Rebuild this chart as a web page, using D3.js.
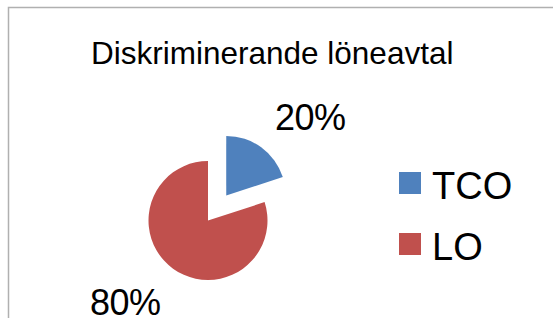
<!DOCTYPE html>
<html>
<head>
<meta charset="utf-8">
<script src="https://cdn.jsdelivr.net/npm/d3@7"></script>
<style>
  html, body { margin: 0; padding: 0; background: #fff; }
  svg { display: block; }
  text { font-family: "Liberation Sans", Arial, Helvetica, sans-serif; fill: #000; }
</style>
</head>
<body>
<svg id="chart" width="553" height="318"></svg>
<script>
const title = "Diskriminerande löneavtal";
const categories = ["TCO", "LO"];
const values = [20, 80];
const colors = ["#4F81BD", "#C0504D"];
const exploded = [true, false];

const W = 553, H = 318;
const svg = d3.select("#chart");

// chart border (left + top visible)
svg.append("path")
  .attr("d", `M8.5,${H} V7.5 H${W}`)
  .attr("fill", "none")
  .attr("stroke", "#b0b0b0")
  .attr("stroke-width", 1.5);

// title
svg.append("text")
  .attr("x", 91).attr("y", 64)
  .attr("font-size", 31.5)
  .text(title);

const cx = 208, cy = 220.5, r = 59.5, explodeDist = 31;
const total = d3.sum(values);
const pie = d3.pie().sort(null).value(d => d)(values);
const arc = d3.arc().innerRadius(0).outerRadius(r);

const g = svg.append("g").attr("transform", `translate(${cx},${cy})`);
g.selectAll("path.slice")
  .data(pie)
  .join("path")
  .attr("class", "slice")
  .attr("d", arc)
  .attr("fill", (d, i) => colors[i])
  .attr("transform", (d, i) => {
    if (!exploded[i]) return null;
    const a = (d.startAngle + d.endAngle) / 2;
    const [x, y] = d3.pointRadial(a, explodeDist);
    return `translate(${x},${y})`;
  });

// data labels (best-fit positions relative to pie centre)
const labelOffsets = [[67, -91], [-118, 94]];
const fmt = d3.format(".0%");
g.selectAll("text.lbl")
  .data(pie)
  .join("text")
  .attr("class", "lbl")
  .attr("x", (d, i) => labelOffsets[i][0])
  .attr("y", (d, i) => labelOffsets[i][1])
  .attr("font-size", 36)
  .attr("letter-spacing", -0.5)
  .text(d => fmt(d.value / total));

// legend
const leg = svg.append("g").attr("transform", "translate(399,172)");
const rows = leg.selectAll("g").data(categories).join("g")
  .attr("transform", (d, i) => `translate(0,${i * 61})`);
rows.append("rect").attr("width", 22).attr("height", 22)
  .attr("fill", (d, i) => colors[i]);
rows.append("text").attr("x", 33).attr("y", 26.5)
  .attr("font-size", 38)
  .text(d => d);
</script>
</body>
</html>
